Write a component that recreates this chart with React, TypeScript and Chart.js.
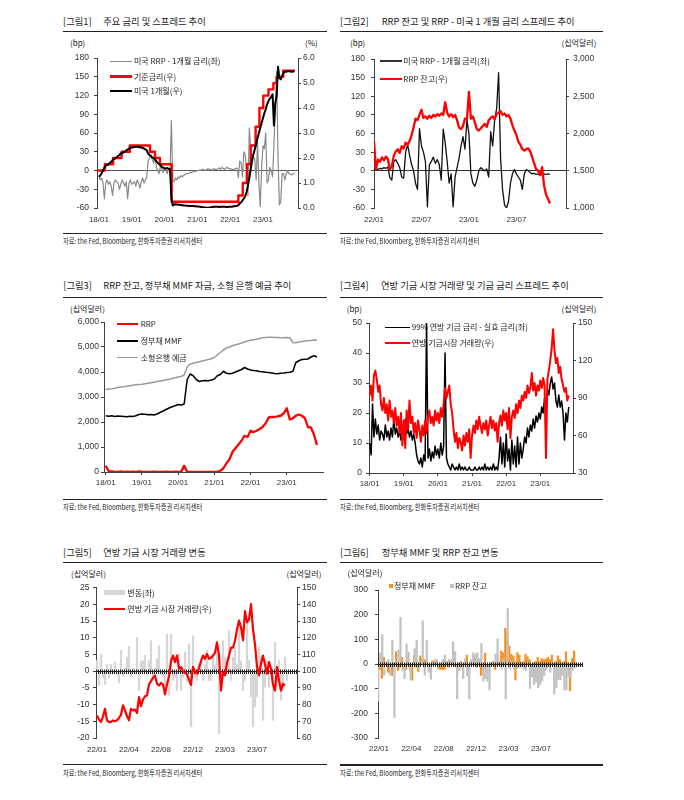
import React, { useEffect, useRef } from 'react';
import { Chart, registerables } from 'chart.js';
Chart.register(...registerables);

const KR = "'Noto Sans CJK KR', 'Noto Sans', sans-serif";
const NUM = "'Liberation Sans', Arial, 'Noto Sans CJK KR', sans-serif";
const TICK = '#333333';
const AXIS = '#404040';
const RED = '#ff0000';

// ---------------- tick labels ----------------
const YEAR_TICKS = [0, 12, 24, 36, 48, 60];
const YEAR_LABELS = ['18/01', '19/01', '20/01', '21/01', '22/01', '23/01'];
const HALF_TICKS = [0, 6, 12, 18];
const HALF_LABELS = ['22/01', '22/07', '23/01', '23/07'];
const WEEK_TICKS = [0, 16, 32, 48, 64, 80];
const WEEK_LABELS = ['22/01', '22/04', '22/08', '22/12', '23/03', '23/07'];

// ---------------- figure 1 (months from 18/01) ----------------
const fig1FedMonth = [-0.7, 2.2, 5.2, 8.3, 11.3, 18.7, 20.5, 22.3, 26.6, 51.0, 52.6, 54.1, 55.5, 57.3, 58.7, 60.1, 62.0, 63.8, 65.0, 67.4, 71.7];
const fig1FedRate = [1.5, 1.75, 2.0, 2.25, 2.5, 2.25, 2.0, 1.75, 0.25, 0.5, 1.0, 1.75, 2.5, 3.25, 4.0, 4.5, 4.75, 5.0, 5.25, 5.5, 5.5];
// half-monthly
const fig1Bill1m = [
  1.25, 1.3, 1.4, 1.5, 1.62, 1.7, 1.72, 1.75, 1.8, 1.85, 1.92, 1.96, 1.98,
  2.02, 2.08, 2.12, 2.18, 2.2, 2.22, 2.26, 2.3, 2.34, 2.38, 2.4, 2.42,
  2.43, 2.44, 2.45, 2.45, 2.44, 2.43, 2.42, 2.4, 2.38, 2.35, 2.3, 2.18,
  2.12, 2.08, 2.02, 2.0, 1.95, 1.88, 1.8, 1.76, 1.7, 1.65, 1.62, 1.58,
  1.58, 1.6, 1.57, 1.55, 0.4,
  0.1, 0.14, 0.15, 0.14, 0.13, 0.13, 0.12, 0.11, 0.1, 0.1, 0.09, 0.09, 0.08, 0.08, 0.08, 0.08, 0.07, 0.07, 0.06,
  0.06, 0.05, 0.04, 0.03, 0.02, 0.02, 0.01, 0.01, 0.02, 0.03, 0.04, 0.05, 0.05, 0.05, 0.05, 0.04, 0.05, 0.05, 0.05, 0.05, 0.04, 0.04, 0.05, 0.05, 0.05, 0.06, 0.07, 0.08,
  0.08, 0.12, 0.18, 0.23, 0.3, 0.38, 0.47, 0.65, 0.9, 1.2, 1.55, 1.95, 2.15, 2.35,
  2.55, 2.8, 3.0, 3.2, 3.4, 3.6, 3.8, 3.95, 4.15, 4.28, 4.38, 4.45, 4.55, 3.3,
  4.2, 4.5, 5.65, 5.2, 5.15, 5.3, 5.4, 5.45, 5.45, 5.47, 5.48, 5.46, 5.45, 5.47, 5.45,
];
const fig1Spread = [
  -8, -15, -12, -20, -45,
  -20, -15, -22, -18, -25, -40, -20, -15,
  -18, -20, -30, -22, -15, -20, -25, -18, -45, -20, -15, -22,
  -20, -18, -25, -15, -20, -28, -18, -12, -20, -15, -10, 15,
  20, 25, 18, 12, 22, 5, 0, -5, 8, 2, -3, 5,
  0, -5, 3, -2, 80,
  -15, -18, -12, -15, -10, -12, -8, -10, -8, -6, -5, -5, -4, -3, -3, -2, -2, -1, 0,
  0, 1, 0, 2, 1, 0, 2, 3, 1, 2, 0, 3, 2, 1, 3, 4, 2, 5, 3, 2, 4, 5, 3,
  3, 2, 2, 2, 3, 4, -11, 15, 12, -10, 30, 25, 0, -40, 68, 35, 10, 22, 18, -15,
  45, -20, -58, 5, 40, 35, 60, -20, -15, 5, 0, -10, 40, 100, 158, 20, -55, -50, -5, -5,
  -15, -5, 0, -5, -6, -7, -5, -5,
];

// ---------------- figure 2 (quarter-monthly from 22/01) ----------------
const fig2Spread = [
  2, 3, 2, 4, 3, 5, 4, 6, -11, -15,
  15, 18, 12, 5, -10, -12, 30, 42, 25, 10,
  0, -20, -30, 68, 40, 30, 15, -58, 10, 15,
  22, 12, 18, 10, -15, 67, 45, 15, -20, -5,
  -58, -10, 5, 20, 40, 55, 35, 82, 60, -5,
  -20, -25, -15, 0, 5, 2, 0, 3, -10, 63,
  40, 82, 100, 158, 20, -30, -55, -60, -50, -20,
  -5, 2, -5, -10, -15, -30, -5, 2, 0, -3,
  -5, -4, -6, -5, -7, -6, -5, -6, -5, -6,
];
const fig2Rrp = [
  1900, 1520, 1650, 1620, 1680, 1640, 1690, 1660, 1520, 1560,
  1700, 1760, 1790, 1740, 1830, 1800, 1880, 1850, 1900, 1980,
  2080, 2200, 2180, 2250, 2320, 2210, 2230, 2200, 2240, 2210,
  2250, 2230, 2260, 2240, 2270, 2250, 2420, 2280, 2230, 2260,
  2220, 2250, 2180, 2080, 2060, 2100, 2200, 2190, 2560, 2200,
  2230, 2150, 2060, 2040, 2070, 2100, 2130, 2090, 2180, 2210,
  2230, 2190, 2260, 2280, 2300, 2250, 2270, 2230, 2250, 2200,
  2110, 2040, 1980, 1890, 1850, 1790, 1770, 1790, 1800, 1760,
  1680, 1600, 1520, 1500, 1440, 1550, 1300, 1180, 1120, 1060,
];

// ---------------- figure 3 (monthly from 18/01) ----------------
const fig3Rrp = [
  250, 30, 20, 10, 5, 20, 5, 10, 5, 10,
  5, 20, 10, 5, 5, 5, 10, 5, 5, 5,
  10, 5, 5, 10, 5, 5, 250, 5, 2, 1,
  1, 1, 1, 1, 1, 1, 2, 5, 50, 150,
  350, 500, 800, 950, 1100, 1250, 1450, 1400, 1650, 1600,
  1650, 1720, 1800, 1950, 2180, 2200, 2200, 2230, 2250, 2350,
  2550, 2100, 2150, 2250, 2300, 2250, 2150, 1800, 1780, 1500,
  1080,
];
const fig3Mmf = [
  2250, 2230, 2250, 2220, 2240, 2230, 2220, 2210, 2230, 2220,
  2250, 2300, 2320, 2310, 2290, 2300, 2280, 2320, 2380, 2440,
  2500, 2560, 2610, 2650, 2700, 2680, 2720, 3700, 3920, 3850,
  3700, 3620, 3650, 3660, 3650, 3680, 3720, 3850, 3900, 4030,
  3950, 3930, 3950, 4000, 4050, 4100, 4180, 4120, 4080, 4060,
  4050, 4020, 4010, 3990, 3980, 3960, 3940, 3930, 3950, 3960,
  3980, 3990, 4020, 4380, 4450, 4500, 4510, 4520, 4600, 4650,
  4600,
];
const fig3Deposits = [
  3300, 3320, 3330, 3350, 3380, 3400, 3410, 3430, 3450, 3470,
  3490, 3500, 3510, 3530, 3550, 3570, 3590, 3620, 3640, 3660,
  3690, 3710, 3740, 3770, 3800, 3820, 3880, 4200, 4320, 4350,
  4380, 4410, 4440, 4470, 4500, 4530, 4580, 4680, 4780, 4880,
  4960, 5000, 5050, 5090, 5120, 5160, 5200, 5240, 5270, 5290,
  5310, 5340, 5370, 5380, 5390, 5390, 5380, 5380, 5370, 5370,
  5380, 5370, 5180, 5170, 5200, 5220, 5240, 5250, 5260, 5280,
  5270,
];

// ---------------- figure 4 (half-monthly from 18/01) ----------------
const fig4Volume = [
  92, 100, 88, 108, 112, 105, 95, 100, 85,
  80, 90, 78, 85, 72, 88, 75, 80, 70, 82, 68, 75,
  62, 78, 52, 72, 50, 80, 65, 88, 70, 75, 62, 70, 58, 72,
  65, 55, 68, 60, 72, 62, 75, 80, 70, 75, 68, 80, 72, 78, 70, 82, 75, 85, 98,
  90, 95, 100, 85, 78, 65, 55, 62, 50, 58, 55, 48, 60, 52, 62, 55, 65, 42, 60,
  68, 62, 72, 65, 75, 68, 62, 70, 65, 72, 60, 68, 75, 66, 72, 64, 70, 55,
  70, 76, 68, 80, 72, 78, 65, 82, 58, 75, 80, 74, 85, 78, 88, 82, 92,
  88, 95, 90, 100, 94, 98, 110, 96, 102, 92, 100, 96, 104, 98, 106, 100, 42,
  105, 112, 120, 130, 145, 128, 118, 122, 110, 115, 105, 100, 95, 98, 88, 92,
];
const fig4Spread = [
  10, 6, 23, 12, 18, 13, 16, 11, 14,
  13, 11, 16, 12, 14, 11, 15, 12, 18, 13, 15, 12,
  14, 11, 16, 12, 18, 13, 15, 12, 14, 11, 13, 10, 6, 4,
  3, 5, 2, 6, 4, 50, 5, 8, 4, 7, 5, 9, 6, 8, 5, 10, 6, 9, 40,
  5, 3, 2, 1, 3, 2, 1, 2, 1, 3, 1, 2, 1, 2, 1, 1, 2, 1, 1,
  1, 2, 1, 1, 2, 1, 2, 1, 3, 1, 2, 1, 2, 1, 3, 1, 2, 1,
  5, 12, 3, 10, 2, 13, 4, 8, 1, 11, 3, 9, 2, 12, 3, 10, 5,
  8, 12, 10, 15, 12, 16, 14, 18, 15, 19, 17, 20, 18, 22, 20, 25, 22,
  28, 26, 30, 32, 28, 30, 24, 22, 26, 22, 24, 20, 11, 20, 17, 22,
];

// ---------------- figure 5 (weekly from 22/01) ----------------
const fig5Volume = [
  73.5, 71, 69.6, 73, 77.5, 70.6, 69.5, 69.6, 70.5, 70,
  70.6, 72, 74, 79.5, 76.5, 73, 70.6, 77.5, 76.5, 77,
  75, 84.5, 79, 83, 85, 85.5, 92, 94, 96, 97.4,
  92.4, 91.4, 93, 92, 86.1, 92, 97, 106, 109.3, 105.4,
  109.3, 101.5, 102.5, 100, 99, 98.1, 95, 91.8, 102.5, 99.5,
  98.5, 102, 106, 109.3, 107.4, 110.3, 107.4, 108, 109.3, 111,
  117.2, 109.3, 88.4, 99.5, 97.5, 105, 109.3, 114.1, 114, 118.2,
  125, 130.2, 126.2, 118.6, 136, 129.2, 131, 140.1, 125, 116,
  102.5, 97.5, 104.4, 109.3, 104, 98.5, 105.4, 101.5, 92, 88.4,
  102.5, 94.4, 88.4, 92.4, 91.4,
];
const fig5Change = [
  3.2, -4.3, 5, -2, -4, 2, -2, 2, -1, 2.7,
  -1, -3.5, 6.2, -1.5, 1, 4.2, 7.4, -1.8, 1, -1,
  10.1, -5.8, 3, 3.2, 4.7, -1, 3.2, 9.1, -2.8, 1,
  3.7, 7.6, -1, -1.8, -6, 11.1, -7.2, 11.1, -2.8, -2,
  -5.8, 5.2, -5.8, -2, 5.7, -3.3, 8.1, -16.7, 10.6, -2,
  -2.8, 2, 3.2, -2.8, 2, 6.2, -2.8, -2.8, 4.7, 2,
  8, -18.7, -2, 9.1, 4.2, 3, 12.1, -2.8, 4.2, 7.2,
  2, 14.5, 3, -5.8, -2.8, 16.5, 3.2, -7.7, -16.7, -10.7,
  -7.7, 7.2, 4.6, -14.7, -4.8, 3.2, -4.8, -1, -14.7, 8.6,
  -4.8, 3.2, -8.7, -5.8, 4.2, -2.8,
];

// ---------------- figure 6 (weekly from 22/01) ----------------
const fig6Mmf = [
  -22, -58, 27, 5, -33, -40, -46, 5, 50, -26,
  -13, 27, -13, -22, 5, -26, -65, 36, -13, -30,
  33, 22, 18, 15, -13, -22, 13, 5, 10, -20,
  -22, -22, -22, 10, -13, 10, 18, -8, -13, 5,
  -13, -22, 5, 36, -22, 10, 5, 30, -13, 13,
  -46, -22, 44, -13, -13, 5, 10, -22, 5, 10,
  53, 46, 145, 125, 73, 40, 33, -65, 46, 36,
  9, 9, 40, 30, 18, -13, 5, 10, 27, 10,
  22, 18, 20, 27, 18, 36, 5, 10, 33, 18,
  5, 10, 50, 5, -108, 22, 53, 5,
];
const fig6Rrp = [
  -151, 44, 119, -45, 10, 18, -45, 97, -217, 13,
  57, 189, -26, -59, 82, 49, -65, 5, 62, 97,
  -19, 10, 176, -45, 97, -33, -62, 5, 18, 18,
  -13, 8, 18, 36, -5, 20, 15, 90, 50, -141,
  -26, 13, -59, 22, -50, -142, 18, 46, 40, 46,
  22, 83, -69, -59, -70, -105, 8, 10, 40, 102,
  10, -20, 22, -141, 225, -20, 13, -20, 13, -17,
  -13, -13, -20, -26, 8, -99, -52, -83, -73, -96,
  -83, -69, -46, -26, -13, -33, 8, -122, -96, -62,
  -63, -46, -105, -105, -52, -52, -26, -17, -8, -8,
  -8,
];

// ---------------- helpers ----------------
const SIDE = 44;
const TOPPAD = 8;
const BOTTOM = 26;

type Box = { l: number; t: number; r: number; b: number };

const pts = (vals: number[], step: number, start = 0) => vals.map((v, i) => ({ x: start + i * step, y: v }));
const comma = (v: any) => Number(v).toLocaleString('en-US');

function yAxis(o: { pos: 'left' | 'right'; min: number; max: number; step: number; pad: number; fmt?: (v: any) => string; zero?: string }) {
  return {
    type: 'linear',
    position: o.pos,
    min: o.min,
    max: o.max,
    afterFit: (s: any) => { s.width = SIDE; },
    ticks: { stepSize: o.step, padding: o.pad, color: TICK, font: { family: NUM, size: 8.5 }, callback: o.fmt || ((v: any) => String(v)) },
    grid: {
      drawOnChartArea: !!o.zero,
      color: (c: any) => (o.zero && c.tick && c.tick.value === 0 ? o.zero : 'rgba(0,0,0,0)'),
      lineWidth: 1,
      drawTicks: true,
      tickLength: 3,
      tickColor: AXIS,
      tickWidth: 1,
    },
    border: { display: true, color: AXIS, width: 1 },
  };
}

function xAxis(o: { min: number; max: number; ticks: number[]; labels: string[]; line: boolean; pad: number }) {
  return {
    type: 'linear',
    position: 'bottom',
    min: o.min,
    max: o.max,
    offset: false,
    afterFit: (s: any) => { s.height = BOTTOM; },
    afterBuildTicks: (s: any) => { s.ticks = o.ticks.map((v) => ({ value: v })); },
    ticks: {
      autoSkip: false, maxRotation: 0, minRotation: 0, padding: o.pad, color: TICK,
      font: { family: NUM, size: 8 },
      callback: (v: any) => { const i = o.ticks.indexOf(v); return i < 0 ? '' : o.labels[i]; },
    },
    grid: { drawOnChartArea: false, drawTicks: o.line, tickLength: 3, tickColor: AXIS, offset: false },
    border: { display: o.line, color: AXIS, width: 1 },
  };
}

function options(hasRight: boolean, scales: any) {
  return {
    animation: false,
    responsive: false,
    maintainAspectRatio: false,
    layout: { padding: { top: TOPPAD, left: 0, right: hasRight ? 0 : SIDE, bottom: 0 } },
    plugins: { legend: { display: false }, tooltip: { enabled: false }, title: { display: false } },
    elements: { point: { radius: 0 }, line: { tension: 0 } },
    scales,
  };
}

const line = (data: any[], color: string, width: number, yAxisID: string, order: number, extra: any = {}) => ({
  type: 'line', data, borderColor: color, backgroundColor: color, borderWidth: width,
  pointRadius: 0, yAxisID, order, fill: false, borderJoinStyle: 'round', ...extra,
});

function drawHatchedZero(chart: any) {
  const { ctx, chartArea, scales } = chart;
  const y = Math.round(scales.y.getPixelForValue(0)) + 0.5;
  const xs = scales.x;
  ctx.save();
  ctx.strokeStyle = '#222';
  ctx.lineWidth = 1;
  ctx.beginPath();
  ctx.moveTo(chartArea.left, y);
  ctx.lineTo(chartArea.right, y);
  for (let i = Math.ceil(xs.min - 0.5); i + 0.5 <= xs.max; i++) {
    const x = Math.round(xs.getPixelForValue(i + 0.5)) + 0.5;
    ctx.moveTo(x, y - 2);
    ctx.lineTo(x, y + 2.5);
  }
  ctx.stroke();
  ctx.restore();
}

const zeroAfterBars = (barIndex: number | null) => ({
  id: 'hatchedZero',
  afterDatasetDraw(chart: any, args: any) { if (barIndex !== null && args.index === barIndex) drawHatchedZero(chart); },
  afterDatasetsDraw(chart: any) { if (barIndex === null) drawHatchedZero(chart); },
});

// ---------------- chart configs ----------------
function fig1Config() {
  return {
    type: 'line',
    data: {
      datasets: [
        line(pts(fig1Spread, 0.5), '#8a8a8a', 1.2, 'y', 3),
        line(fig1FedMonth.map((x, i) => ({ x, y: fig1FedRate[i] })), RED, 2.4, 'y2', 2, { stepped: true }),
        line(pts(fig1Bill1m, 0.5), '#000000', 2, 'y2', 1),
      ],
    },
    options: options(true, {
      x: xAxis({ min: -0.7, max: 72.8, ticks: YEAR_TICKS, labels: YEAR_LABELS, line: false, pad: 7 }),
      y: yAxis({ pos: 'left', min: -60, max: 180, step: 30, pad: 5, zero: '#5a5a5a' }),
      y2: yAxis({ pos: 'right', min: 0, max: 6, step: 1, pad: 2, fmt: (v) => Number(v).toFixed(1) }),
    }),
  };
}

function fig2Config() {
  return {
    type: 'line',
    data: {
      datasets: [
        line(pts(fig2Spread, 0.25), '#111111', 1.3, 'y', 2),
        line(pts(fig2Rrp, 0.25), RED, 2.3, 'y2', 1),
      ],
    },
    options: options(true, {
      x: xAxis({ min: 0, max: 24.27, ticks: HALF_TICKS, labels: HALF_LABELS, line: false, pad: 7 }),
      y: yAxis({ pos: 'left', min: -60, max: 180, step: 30, pad: 6, zero: '#333333' }),
      y2: yAxis({ pos: 'right', min: 1000, max: 3000, step: 500, pad: 4, fmt: comma }),
    }),
  };
}

function fig3Config() {
  return {
    type: 'line',
    data: {
      datasets: [
        line(pts(fig3Rrp, 1), RED, 2.3, 'y', 3),
        line(pts(fig3Mmf, 1), '#000000', 1.5, 'y', 2),
        line(pts(fig3Deposits, 1), '#9a9a9a', 1.5, 'y', 1),
      ],
    },
    options: options(false, {
      x: xAxis({ min: -0.56, max: 72, ticks: YEAR_TICKS, labels: YEAR_LABELS, line: true, pad: 3 }),
      y: yAxis({ pos: 'left', min: 0, max: 6000, step: 1000, pad: 2, fmt: comma }),
    }),
  };
}

function fig4Config() {
  return {
    type: 'line',
    data: {
      datasets: [
        line(pts(fig4Spread, 0.5), '#000000', 1.5, 'y', 2),
        line(pts(fig4Volume, 0.5), RED, 2, 'y2', 1),
      ],
    },
    options: options(true, {
      x: xAxis({ min: -0.24, max: 71.5, ticks: YEAR_TICKS, labels: YEAR_LABELS, line: true, pad: 3 }),
      y: yAxis({ pos: 'left', min: 0, max: 50, step: 10, pad: 4 }),
      y2: yAxis({ pos: 'right', min: 30, max: 150, step: 30, pad: 2 }),
    }),
  };
}

function fig5Config() {
  return {
    type: 'bar',
    data: {
      datasets: [
        { type: 'bar', data: pts(fig5Change, 1), backgroundColor: '#d6d6d6', barThickness: 1.6, yAxisID: 'y', order: 2 },
        line(pts(fig5Volume, 1), RED, 2.2, 'y2', 1),
      ],
    },
    options: options(true, {
      x: xAxis({ min: -0.5, max: 100, ticks: WEEK_TICKS, labels: WEEK_LABELS, line: false, pad: 7 }),
      y: yAxis({ pos: 'left', min: -20, max: 25, step: 5, pad: 3.5 }),
      y2: yAxis({ pos: 'right', min: 60, max: 150, step: 10, pad: 2 }),
    }),
    plugins: [zeroAfterBars(0)],
  };
}

function fig6Config() {
  return {
    type: 'bar',
    data: {
      datasets: [
        { type: 'bar', data: pts(fig6Mmf, 1), backgroundColor: '#f39422', barThickness: 1.6, yAxisID: 'y', order: 2 },
        { type: 'bar', data: pts(fig6Rrp, 1), backgroundColor: '#c2c2c2', barThickness: 1.6, yAxisID: 'y', order: 1 },
      ],
    },
    options: options(false, {
      x: xAxis({ min: -0.5, max: 100.8, ticks: WEEK_TICKS, labels: WEEK_LABELS, line: false, pad: 6 }),
      y: yAxis({ pos: 'left', min: -300, max: 300, step: 100, pad: 7 }),
    }),
    plugins: [zeroAfterBars(null)],
  };
}

// ---------------- components ----------------
function Plot({ box, make }: { box: Box; make: () => any }) {
  const ref = useRef<HTMLCanvasElement>(null);
  const W = Math.round(box.r - box.l + 2 * SIDE);
  const H = Math.round(box.b - box.t + TOPPAD + BOTTOM);
  useEffect(() => {
    const chart = new Chart(ref.current as HTMLCanvasElement, make() as any);
    return () => chart.destroy();
  }, []);
  return (
    <canvas
      ref={ref}
      width={W}
      height={H}
      style={{ position: 'absolute', left: Math.round(box.l - SIDE), top: Math.round(box.t - TOPPAD), width: W, height: H }}
    />
  );
}

function Txt({ x, y, size, children, color = '#222', sx, font = KR }: any) {
  return (
    <div
      style={{
        position: 'absolute', left: x, top: y, fontSize: size, fontFamily: font, color,
        lineHeight: 1, whiteSpace: 'nowrap',
        transform: 'translateY(-50%)' + (sx ? ` scaleX(${sx})` : ''), transformOrigin: 'left center',
      }}
    >
      {children}
    </div>
  );
}

function HLine({ x1, x2, y, w = 1, color = '#222' }: any) {
  return <div style={{ position: 'absolute', left: x1, top: y - w / 2, width: x2 - x1, height: w, background: color }} />;
}

function Rect({ x, y, w, h, color }: any) {
  return <div style={{ position: 'absolute', left: x, top: y, width: w, height: h, background: color }} />;
}

const SOURCE = '자료: the Fed, Bloomberg, 한화투자증권 리서치센터';
const LEG = 8;
const UNIT = 8;

function Frame({ x0, x1, titleY, num, title, titleX, lineY, srcLineY, srcY }: any) {
  return (
    <>
      <Txt x={x0} y={titleY} size={9.3} color="#1a1a1a">{`[그림${num}]`}</Txt>
      <Txt x={titleX} y={titleY} size={9.3} color="#1a1a1a">{title}</Txt>
      <HLine x1={x0} x2={x1} y={lineY} w={1.1} />
      <HLine x1={x0} x2={x1} y={srcLineY} w={1.1} />
      <Txt x={x0} y={srcY} size={7.5} color="#222" sx={0.83}>{SOURCE}</Txt>
    </>
  );
}

function LegendLine({ x1, x2, y, w, color, text, tx }: any) {
  return (
    <>
      <HLine x1={x1} x2={x2} y={y} w={w} color={color} />
      <Txt x={tx} y={y} size={LEG} color="#222">{text}</Txt>
    </>
  );
}

export default function App() {
  return (
    <div style={{ position: 'absolute', left: 0, top: 0, width: 684, height: 800, background: '#fff', overflow: 'hidden' }}>
      {/* Figure 1 */}
      <Frame x0={63} x1={327} titleY={21.7} num={1} title="주요 금리 및 스프레드 추이" titleX={103.3} lineY={31.5} srcLineY={233.3} srcY={241} />
      <Txt x={70} y={43.3} size={UNIT}>(bp)</Txt>
      <Txt x={305} y={43.3} size={UNIT}>(%)</Txt>
      <Plot box={{ l: 97, t: 56, r: 298, b: 208 }} make={fig1Config} />
      <LegendLine x1={110} x2={132} y={61.3} w={1.3} color="#8a8a8a" text="미국 RRP - 1개월 금리(좌)" tx={134} />
      <LegendLine x1={110} x2={132} y={76.5} w={2.4} color={RED} text="기준금리(우)" tx={134} />
      <LegendLine x1={110} x2={132} y={91.2} w={2} color="#000" text="미국 1개월(우)" tx={134} />

      {/* Figure 2 */}
      <Frame x0={340} x1={603} titleY={21.7} num={2} title="RRP 잔고 및 RRP - 미국 1 개월 금리 스프레드 추이" titleX={381.7} lineY={31.5} srcLineY={233.3} srcY={241} />
      <Txt x={350} y={42.7} size={UNIT}>(bp)</Txt>
      <Txt x={561.5} y={42.7} size={UNIT}>(십억달러)</Txt>
      <Plot box={{ l: 374, t: 56, r: 566, b: 208 }} make={fig2Config} />
      <LegendLine x1={380} x2={401.7} y={61} w={1.5} color="#333" text="미국 RRP - 1개월 금리(좌)" tx={403.3} />
      <LegendLine x1={380} x2={401.7} y={79.3} w={2.4} color={RED} text="RRP 잔고(우)" tx={403.3} />

      {/* Figure 3 */}
      <Frame x0={63.3} x1={327} titleY={286} num={3} title="RRP 잔고, 정부채 MMF 자금, 소형 은행 예금 추이" titleX={103.3} lineY={297.3} srcLineY={499.3} srcY={507.3} />
      <Txt x={70} y={309.3} size={UNIT}>(십억달러)</Txt>
      <Plot box={{ l: 104, t: 322, r: 323, b: 472 }} make={fig3Config} />
      <LegendLine x1={116.7} x2={138.3} y={324} w={2.4} color={RED} text="RRP" tx={140.7} />
      <LegendLine x1={116.7} x2={138.3} y={341} w={1.5} color="#000" text="정부채 MMF" tx={140.7} />
      <LegendLine x1={116.7} x2={138.3} y={357.7} w={1.5} color="#9a9a9a" text="소형은행 예금" tx={140.7} />

      {/* Figure 4 */}
      <Frame x0={340} x1={603} titleY={286} num={4} title="연방 기금 시장 거래량 및 기금 금리 스프레드 추이" titleX={381} lineY={297.3} srcLineY={499.3} srcY={507.3} />
      <Txt x={346.7} y={309.3} size={UNIT}>(bp)</Txt>
      <Txt x={561.5} y={309.3} size={UNIT}>(십억달러)</Txt>
      <Plot box={{ l: 369, t: 322, r: 573, b: 473 }} make={fig4Config} />
      <LegendLine x1={385} x2={410} y={327.3} w={1.2} color="#000" text="99% 연방 기금 금리 - 실효 금리(좌)" tx={411.7} />
      <LegendLine x1={385} x2={410} y={343.3} w={2.4} color={RED} text="연방 기금시장 거래량(우)" tx={411.7} />

      {/* Figure 5 */}
      <Frame x0={63} x1={327} titleY={553.3} num={5} title="연방 기금 시장 거래량 변동" titleX={103.3} lineY={562.3} srcLineY={764.5} srcY={772.7} />
      <Txt x={71} y={574} size={UNIT}>(십억달러)</Txt>
      <Txt x={286.5} y={574} size={UNIT}>(십억달러)</Txt>
      <Plot box={{ l: 96, t: 587, r: 297, b: 738 }} make={fig5Config} />
      <Rect x={103.5} y={590} w={21.5} h={5} color="#d6d6d6" />
      <Txt x={127.3} y={592.5} size={LEG}>변동(좌)</Txt>
      <LegendLine x1={103.5} x2={125} y={609} w={2.4} color={RED} text="연방 기금 시장 거래량(우)" tx={127.3} />

      {/* Figure 6 */}
      <Frame x0={340} x1={603} titleY={553} num={6} title="정부채 MMF 및 RRP 잔고 변동" titleX={381.7} lineY={562.3} srcLineY={765} srcY={773.3} />
      <Txt x={347.5} y={573.3} size={UNIT}>(십억달러)</Txt>
      <Plot box={{ l: 378, t: 586, r: 583, b: 738 }} make={fig6Config} />
      <Rect x={389} y={583.5} w={4} h={4} color="#f39422" />
      <Txt x={394} y={585.6} size={LEG}>정부채 MMF</Txt>
      <Rect x={450} y={583.5} w={4} h={4} color="#c2c2c2" />
      <Txt x={455} y={585.6} size={LEG}>RRP 잔고</Txt>
    </div>
  );
}
